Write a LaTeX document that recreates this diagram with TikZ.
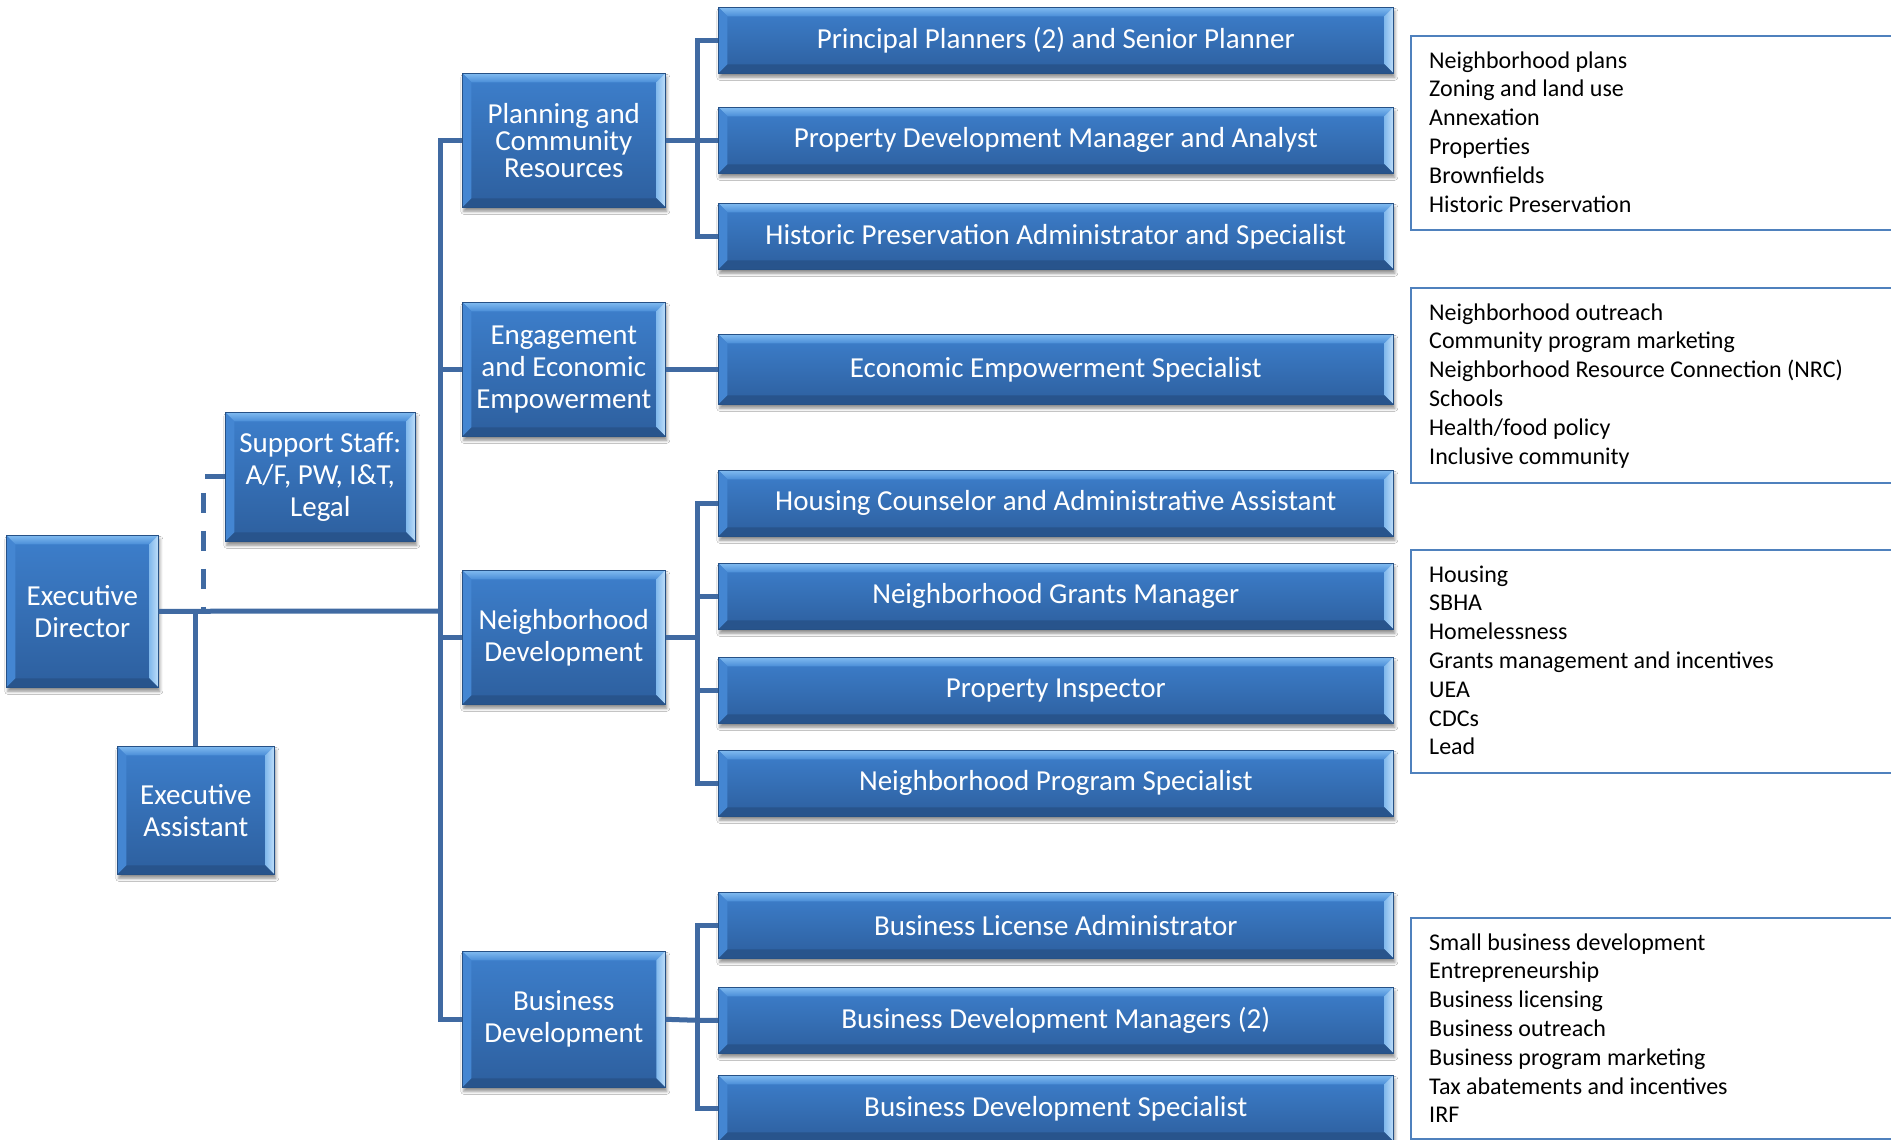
\documentclass[tikz,border=0pt]{standalone}
\usepackage{fontspec}
\setmainfont{Carlito}
\usetikzlibrary{shadows.blur}

% palette
\definecolor{linkblue}{RGB}{64,106,162}
\definecolor{fillhi}{RGB}{61,127,204}
\definecolor{filllo}{RGB}{45,95,158}
\definecolor{bevtophi}{RGB}{128,186,240}
\definecolor{bevtoplo}{RGB}{74,142,216}
\definecolor{bevrighthi}{RGB}{190,222,250}
\definecolor{bevrightlo}{RGB}{130,185,236}
\definecolor{bevleft}{RGB}{68,134,210}
\definecolor{bevbottom}{RGB}{40,84,140}
\definecolor{noteedge}{RGB}{79,129,189}

\newcommand\bevw{9pt}

\tikzset{
  x=1pt, y=-1pt,
  orgbox/.style={
    draw=filllo!85!black, line width=0.6pt,
    top color=fillhi, bottom color=filllo,
    text=white, align=center, inner sep=0pt, anchor=north west,
    font=\fontsize{29}{32}\selectfont,
    blur shadow={shadow xshift=1.5pt, shadow yshift=-4pt,
                 shadow blur radius=3pt, shadow opacity=45},
    path picture={
      \path (path picture bounding box.north west) coordinate (bvA)
            (path picture bounding box.north east) coordinate (bvB)
            (path picture bounding box.south east) coordinate (bvC)
            (path picture bounding box.south west) coordinate (bvD);
      % bevelled rim: top, right, bottom, left
      \shade[top color=bevtophi, bottom color=bevtoplo]
        (bvA) -- (bvB) -- ([shift={(-\bevw,-\bevw)}]bvB)
        -- ([shift={(\bevw,-\bevw)}]bvA) -- cycle;
      \shade[left color=bevrightlo, right color=bevrighthi]
        (bvB) -- (bvC) -- ([shift={(-\bevw,\bevw)}]bvC)
        -- ([shift={(-\bevw,-\bevw)}]bvB) -- cycle;
      \fill[bevbottom]
        (bvC) -- (bvD) -- ([shift={(\bevw,\bevw)}]bvD)
        -- ([shift={(-\bevw,\bevw)}]bvC) -- cycle;
      \fill[bevleft]
        (bvD) -- (bvA) -- ([shift={(\bevw,-\bevw)}]bvA)
        -- ([shift={(\bevw,\bevw)}]bvD) -- cycle;
    }},
  rolebox/.style={orgbox, minimum width=675pt, minimum height=66pt},
  deptbox/.style={orgbox, minimum width=203pt},
  link/.style={draw=linkblue, line width=5pt},
  dottedlink/.style={link, dash pattern=on 20pt off 18pt},
  notebox/.style={draw=noteedge, line width=2pt, fill=white,
    anchor=north west, minimum width=500pt, inner sep=0pt},
  notetext/.style={anchor=north west, align=left, inner sep=0pt,
    font=\fontsize{24}{28.8}\selectfont},
}

\begin{document}
\begin{tikzpicture}
\useasboundingbox[fill=white] (0,0) rectangle (1891,1140);

% --- director level ---
\node[orgbox, minimum width=152pt, minimum height=152pt] (ed) at (6,535) {Executive\\Director};
\node[orgbox, minimum width=190pt, minimum height=129pt] (ss) at (225,412) {Support Staff:\\A/F, PW, I\&T,\\Legal};
\node[orgbox, minimum width=157pt, minimum height=128pt] (ea) at (117,746) {Executive\\Assistant};

% --- departments ---
\node[deptbox, minimum height=134pt, font=\fontsize{29}{27}\selectfont] (plan) at (462,73) {Planning and\\Community\\Resources};
\node[deptbox, minimum height=134pt] (eng) at (462,302) {Engagement\\and Economic\\Empowerment};
\node[deptbox, minimum height=134pt] (nd) at (462,570) {Neighborhood\\Development};
\node[deptbox, minimum height=136pt] (bd) at (462,951) {Business\\Development};

% --- positions ---
\node[rolebox] (pp)   at (718,7)   {Principal Planners (2) and Senior Planner};
\node[rolebox] (pdm)  at (718,107) {Property Development Manager and Analyst};
\node[rolebox] (hist) at (718,203) {Historic Preservation Administrator and Specialist};
\node[rolebox, minimum height=70pt] (econ) at (718,334) {Economic Empowerment Specialist};
\node[rolebox] (hc)   at (718,470) {Housing Counselor and Administrative Assistant};
\node[rolebox] (ngm)  at (718,563) {Neighborhood Grants Manager};
\node[rolebox] (pi)   at (718,657) {Property Inspector};
\node[rolebox] (nps)  at (718,750) {Neighborhood Program Specialist};
\node[rolebox] (bla)  at (718,892) {Business License Administrator};
\node[rolebox] (bdm)  at (718,987) {Business Development Managers (2)};
\node[rolebox] (bds)  at (718,1075) {Business Development Specialist};

% --- responsibility notes ---
\node[notebox, minimum height=194pt] (n1) at (1410,35) {};
\node[notetext] (n1t) at ([shift={(19pt,-12.8pt)}]n1.north west)
  {\strut Neighborhood plans\\Zoning and land use\\Annexation\\Properties\\Brownfields\\Historic Preservation};
\node[notebox, minimum height=195pt] (n2) at (1410,287) {};
\node[notetext] (n2t) at ([shift={(19pt,-12.8pt)}]n2.north west)
  {\strut Neighborhood outreach\\Community program marketing\\Neighborhood Resource Connection (NRC)\\Schools\\Health/food policy\\Inclusive community};
\node[notebox, minimum height=223pt] (n3) at (1410,549) {};
\node[notetext] (n3t) at ([shift={(19pt,-12.8pt)}]n3.north west)
  {\strut Housing\\SBHA\\Homelessness\\Grants management and incentives\\UEA\\CDCs\\Lead};
\node[notebox, minimum height=221pt] (n4) at (1410,917) {};
\node[notetext] (n4t) at ([shift={(19pt,-12.8pt)}]n4.north west)
  {\strut Small business development\\Entrepreneurship\\Business licensing\\Business outreach\\Business program marketing\\Tax abatements and incentives\\IRF};

% --- connectors ---
\coordinate (trunk) at (440,611);
\coordinate (dj) at (203,611);
\coordinate (pbus) at (697,140);

\draw[link] (ed.east) -- (trunk);
\draw[link] (ea.north) -- (ea.north |- ed.east);
\draw[dottedlink] (ss.west) -| (dj);

\draw[link] (plan.west) -| (trunk);
\draw[link] (bd.west) -| (trunk);
\draw[link] (eng.west) -- (eng.west -| trunk);
\draw[link] (nd.west) -- (nd.west -| trunk);

\draw[link] (plan.east) -- (pdm.west);
\draw[link] (pp.west) -- (pp.west -| pbus) -- (hist.west -| pbus) -- (hist.west);

\draw[link] (eng.east) -- (econ.west);

\draw[link] (nd.east) -- (nd.east -| pbus);
\draw[link] (hc.west) -- (hc.west -| pbus) -- (nps.west -| pbus) -- (nps.west);
\draw[link] (ngm.west) -- (ngm.west -| pbus);
\draw[link] (pi.west) -- (pi.west -| pbus);

\draw[link] (bd.east) -- (bdm.west -| pbus) -- (bdm.west);
\draw[link] (bla.west) -- (bla.west -| pbus) -- (bds.west -| pbus) -- (bds.west);
\end{tikzpicture}
\end{document}
